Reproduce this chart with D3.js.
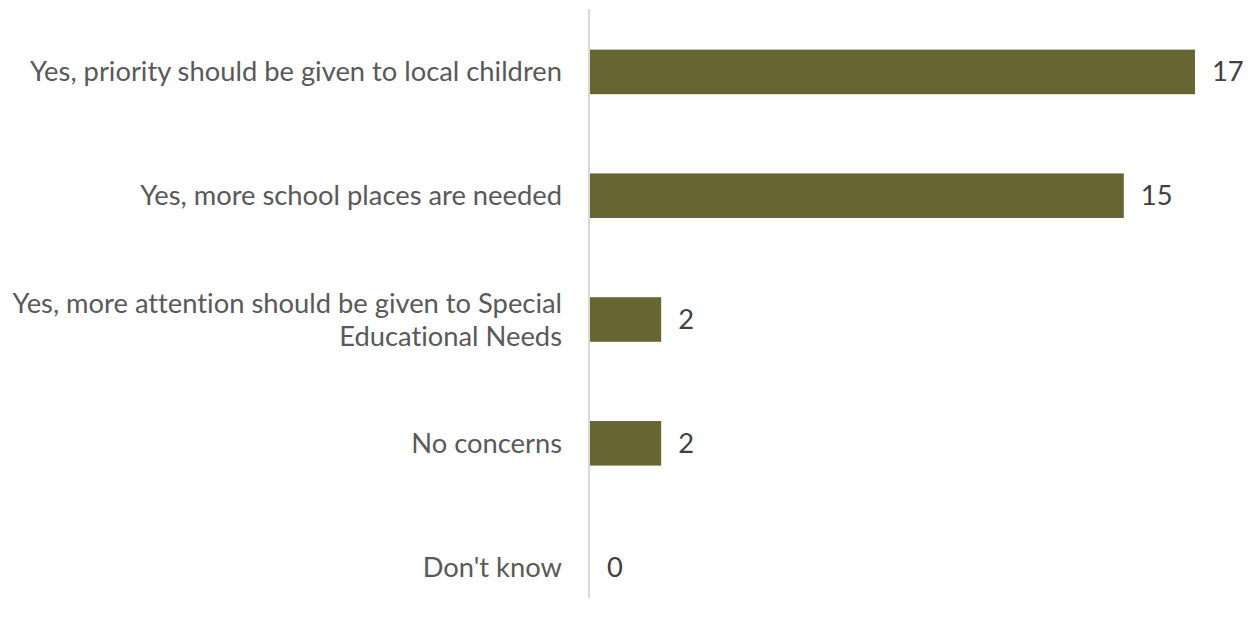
<!DOCTYPE html>
<html>
<head>
<meta charset="utf-8">
<script src="https://cdn.jsdelivr.net/npm/d3@7"></script>
<style>
  html, body { margin: 0; padding: 0; background: #ffffff; }
  svg { display: block; }
  text { font-variant-ligatures: none; font-feature-settings: "liga" 0; }
</style>
</head>
<body>
<svg id="chart" width="1253" height="627"></svg>
<script>
const categories = [
  "Yes, priority should be given to local children",
  "Yes, more school places are needed",
  "Yes, more attention should be given to Special Educational Needs",
  "No concerns",
  "Don't know"
];
const values = [17, 15, 2, 2, 0];

const W = 1253, H = 627;
const FONT = "Lato, 'Open Sans', sans-serif";
const svg = d3.select("#chart");

// fit font size so the longest single-line label matches the reference width
const probe = svg.append("text").attr("font-family", FONT).attr("font-size", 20).text(categories[0]);
const probeW = probe.node().getComputedTextLength();
probe.remove();
const fontSize = 20 * 532 / probeW;

const x = d3.scaleLinear().domain([0, 17]).range([590, 1195]);
const y = d3.scaleBand().domain(categories).range([10, 629]).paddingInner(0.64).paddingOuter(0.32);

// category axis
const yAxis = d3.axisLeft(y).tickSize(0).tickPadding(28);
const gy = svg.append("g").attr("transform", `translate(${x(0)},0)`).call(yAxis);
gy.select(".domain").remove();
gy.selectAll("text")
  .attr("font-family", FONT)
  .attr("font-size", fontSize)
  .attr("fill", "#595959")
  .each(function(d) {
    const t = d3.select(this);
    const words = d.split(" ");
    const lines = [];
    let cur = [];
    t.text(null);
    const tmp = t.append("tspan");
    for (const w of words) {
      const test = cur.concat([w]).join(" ");
      tmp.text(test);
      if (tmp.node().getComputedTextLength() > 555 && cur.length) {
        lines.push(cur.join(" "));
        cur = [w];
      } else cur.push(w);
    }
    lines.push(cur.join(" "));
    tmp.remove();
    const lh = 33;
    const x0 = t.attr("x");
    t.attr("dy", null);
    lines.forEach((ln, i) => {
      t.append("tspan")
        .attr("x", x0)
        .attr("y", (i - (lines.length - 1) / 2) * lh)
        .attr("dy", "0.35em")
        .text(ln);
    });
  });

// bars
svg.append("g").selectAll("rect")
  .data(values)
  .join("rect")
  .attr("x", x(0))
  .attr("y", (d, i) => y(categories[i]))
  .attr("width", d => x(d) - x(0))
  .attr("height", y.bandwidth())
  .attr("fill", "#676532");

// axis line
svg.append("line")
  .attr("x1", x(0) - 1).attr("x2", x(0) - 1)
  .attr("y1", 9).attr("y2", 598)
  .attr("stroke", "#d9d9d9").attr("stroke-width", 2);

// value labels
svg.append("g").selectAll("text")
  .data(values)
  .join("text")
  .attr("x", d => x(d) + 17)
  .attr("y", (d, i) => y(categories[i]) + y.bandwidth() / 2)
  .attr("dy", "0.35em")
  .attr("font-family", FONT)
  .attr("font-size", fontSize)
  .attr("fill", "#404040")
  .text(d => d);
</script>
</body>
</html>
